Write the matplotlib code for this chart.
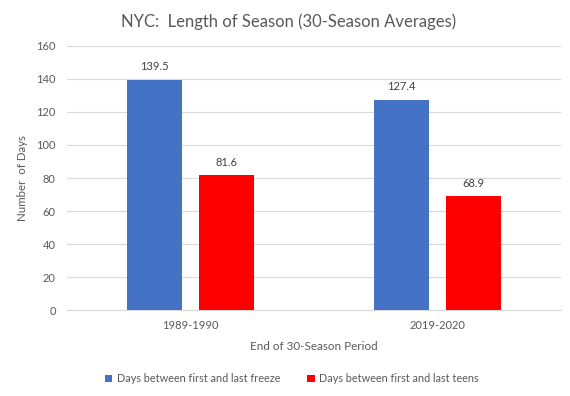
import numpy as np
import matplotlib
matplotlib.use("Agg")
import matplotlib.pyplot as plt

# data
periods = ["1989-1990", "2019-2020"]
freeze_days = [139.5, 127.4]
teens_days = [81.6, 68.9]
series_names = ["Days between first and last freeze", "Days between first and last teens"]
yticks = [0, 20, 40, 60, 80, 100, 120, 140, 160]

plt.rcParams['font.family'] = ['Lato', 'DejaVu Sans']
txt = '#595959'

fig = plt.figure(figsize=(5.7, 3.96), dpi=100)
ax = fig.add_axes([0.1175, 0.217, 0.8667, 0.667])

x = np.arange(len(periods))
w = 0.223
off = 0.145
b1 = ax.bar(x - off, freeze_days, w, color='#4472C4', label=series_names[0], zorder=3)
b2 = ax.bar(x + off, teens_days, w, color='#FF0000', label=series_names[1], zorder=3)

for bars in (b1, b2):
    for r in bars:
        ax.annotate(f"{r.get_height():.1f}", (r.get_x() + r.get_width() / 2, r.get_height()),
                    xytext=(0, 5.5), textcoords='offset points', ha='center', va='bottom',
                    fontsize=8, color='#404040')

ax.set_xlim(-0.5, 1.5)
ax.set_ylim(0, 160)
ax.set_yticks(yticks)
ax.set_xticks(x)
ax.set_xticklabels(periods)
ax.yaxis.grid(True, color='#D9D9D9', linewidth=0.8, zorder=0)
ax.set_axisbelow(True)
for s in ('top', 'right', 'left'):
    ax.spines[s].set_visible(False)
ax.spines['bottom'].set_color('#D9D9D9')
ax.tick_params(axis='both', length=0, labelsize=8, colors=txt)
ax.tick_params(axis='y', pad=8)
ax.tick_params(axis='x', pad=7)

ax.set_xlabel("End of 30-Season Period", fontsize=8.4, color=txt, labelpad=7)
ax.set_ylabel("Number  of Days", fontsize=8.3, color=txt, labelpad=6)
fig.text(0.507, 0.944, "NYC:  Length of Season (30-Season Averages)", ha='center', va='center',
         fontsize=12, color=txt)

fig.legend(handles=[b1, b2], loc='center', bbox_to_anchor=(0.512, 0.043), ncol=2, frameon=False,
           fontsize=7.8, labelcolor=txt, handlelength=0.7, handleheight=0.7,
           handletextpad=0.4, columnspacing=2.5)

fig.savefig("out.png", dpi=100)
